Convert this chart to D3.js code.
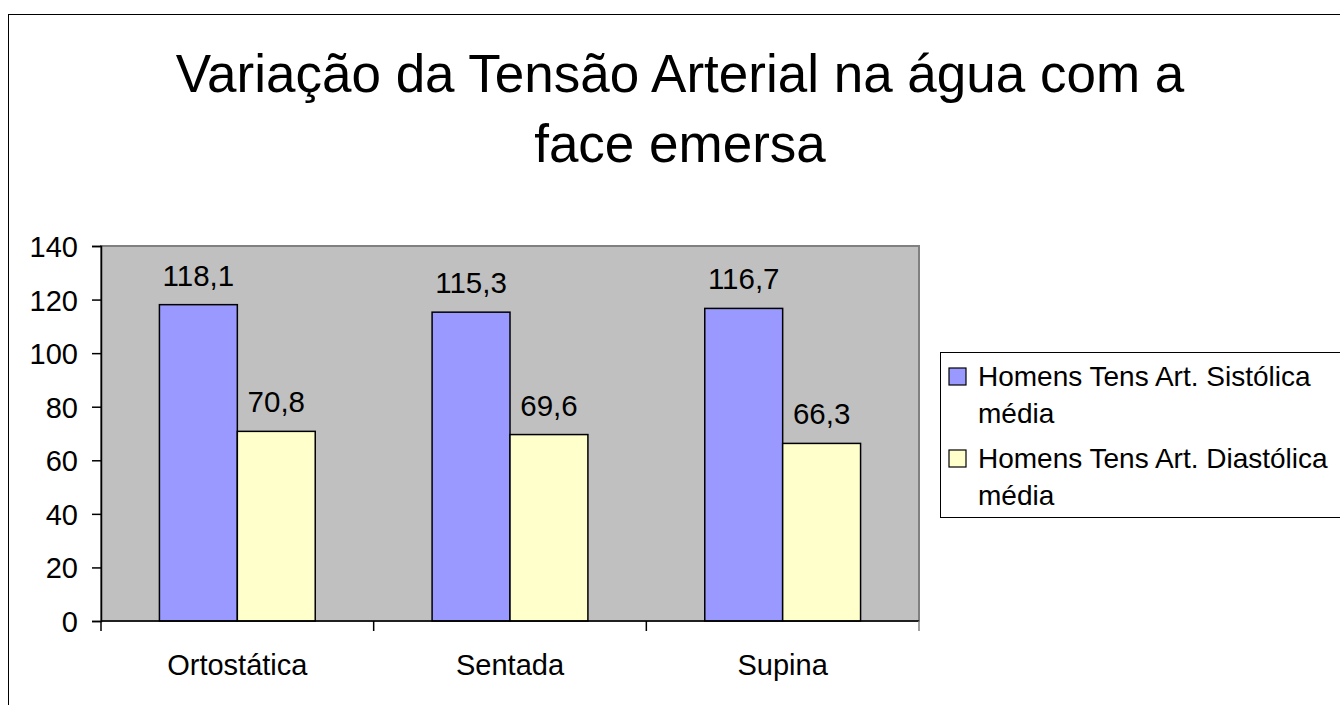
<!DOCTYPE html>
<html>
<head>
<meta charset="utf-8">
<script src="https://cdn.jsdelivr.net/npm/d3@7"></script>
<style>
  body { margin: 0; background: #fff; }
  text { font-family: "Liberation Sans", Arial, sans-serif; fill: #000; }
</style>
</head>
<body>
<script>
// data
const categories = ['Ortostática', 'Sentada', 'Supina'];
const seriesNames = ['Homens Tens Art. Sistólica média', 'Homens Tens Art. Diastólica média'];
const sistolica = [118.1, 115.3, 116.7];
const diastolica = [70.8, 69.6, 66.3];
const yTicks = [0, 20, 40, 60, 80, 100, 120, 140];
const titleLines = ['Variação da Tensão Arterial na água com a', 'face emersa'];
const legendLines = [['Homens Tens Art. Sistólica', 'média'], ['Homens Tens Art. Diastólica', 'média']];
const colors = ['#9999FF', '#FFFFCC'];

const W = 1340, H = 705;
const plot = { left: 101, top: 246, right: 919, bottom: 621 };

const svg = d3.select('body').append('svg')
  .attr('width', W)
  .attr('height', H);

// outer frame
svg.append('rect')
  .attr('x', 8.5).attr('y', 14.5)
  .attr('width', W + 10).attr('height', H + 10)
  .attr('fill', '#fff').attr('stroke', '#000');

// title
svg.append('text')
  .attr('text-anchor', 'middle')
  .style('font-size', '53px')
  .selectAll('tspan')
  .data(titleLines)
  .enter().append('tspan')
  .attr('x', 680)
  .attr('y', (d, i) => 92 + i * 70)
  .text(d => d);

const x0 = d3.scaleBand()
  .domain(categories)
  .range([plot.left, plot.right]);

// bar width = band / (2 + 1.5 gap)
const barW = x0.bandwidth() / 3.5;

const y = d3.scaleLinear()
  .domain([0, 140])
  .range([plot.bottom, plot.top]);

// plot area
svg.append('rect')
  .attr('x', plot.left).attr('y', plot.top)
  .attr('width', plot.right - plot.left)
  .attr('height', plot.bottom - plot.top)
  .attr('fill', '#C0C0C0')
  .attr('stroke', '#808080')
  .attr('stroke-width', 2);

const data = categories.map((c, i) => ({ cat: c, vals: [sistolica[i], diastolica[i]] }));

const groups = svg.selectAll('g.cat')
  .data(data)
  .enter().append('g')
  .attr('class', 'cat')
  .attr('transform', d => 'translate(' + (x0(d.cat) + barW * 0.75) + ',0)');

groups.selectAll('rect')
  .data(d => d.vals)
  .enter().append('rect')
  .attr('x', (d, i) => i * barW)
  .attr('y', d => y(d))
  .attr('width', barW)
  .attr('height', d => y(0) - y(d))
  .attr('fill', (d, i) => colors[i])
  .attr('stroke', '#000')
  .attr('stroke-width', 1.5);

groups.selectAll('text')
  .data(d => d.vals)
  .enter().append('text')
  .attr('x', (d, i) => i * barW + barW / 2)
  .attr('y', d => y(d) - 19)
  .attr('text-anchor', 'middle')
  .style('font-size', '29.5px')
  .text(d => d3.format('.1f')(d).replace('.', ','));

// y axis
const yAxis = svg.append('g')
  .attr('transform', 'translate(' + plot.left + ',0)')
  .call(d3.axisLeft(y).tickValues(yTicks).tickSize(9).tickPadding(14));
yAxis.select('.domain').attr('stroke', '#000').attr('stroke-width', 1.5);
yAxis.selectAll('.tick line').attr('stroke', '#000').attr('stroke-width', 1.5);
yAxis.selectAll('text')
  .style('font-size', '29px')
  .attr('font-family', null)
  .attr('dy', '0.36em');

// x axis
const xAxis = svg.append('g')
  .attr('transform', 'translate(0,' + plot.bottom + ')')
  .call(d3.axisBottom(x0).tickSize(0).tickPadding(33));
xAxis.select('.domain').remove();
xAxis.selectAll('text')
  .style('font-size', '29px')
  .attr('font-family', null);
svg.append('line')
  .attr('x1', plot.left).attr('x2', plot.right)
  .attr('y1', plot.bottom).attr('y2', plot.bottom)
  .attr('stroke', '#000').attr('stroke-width', 1.5);
svg.selectAll('line.xtick')
  .data(d3.range(categories.length + 1))
  .enter().append('line')
  .attr('class', 'xtick')
  .attr('x1', i => plot.left + i * x0.step())
  .attr('x2', i => plot.left + i * x0.step())
  .attr('y1', plot.bottom)
  .attr('y2', plot.bottom + 10)
  .attr('stroke', i => i === categories.length ? '#808080' : '#000')
  .attr('stroke-width', 1.5);

// legend
const legend = svg.append('g');
legend.append('rect')
  .attr('x', 940.5).attr('y', 352.5)
  .attr('width', 420).attr('height', 165)
  .attr('fill', '#fff').attr('stroke', '#000');

const items = legend.selectAll('g.item')
  .data(legendLines)
  .enter().append('g')
  .attr('class', 'item')
  .attr('transform', (d, i) => 'translate(949,' + (368 + i * 82) + ')');

items.append('rect')
  .attr('width', 17).attr('height', 17)
  .attr('fill', (d, i) => colors[i])
  .attr('stroke', '#000')
  .attr('stroke-width', 1.2);

items.append('text')
  .style('font-size', '28px')
  .selectAll('tspan')
  .data(d => d)
  .enter().append('tspan')
  .attr('x', 29)
  .attr('y', (d, i) => 18 + i * 37)
  .text(d => d);
</script>
</body>
</html>
